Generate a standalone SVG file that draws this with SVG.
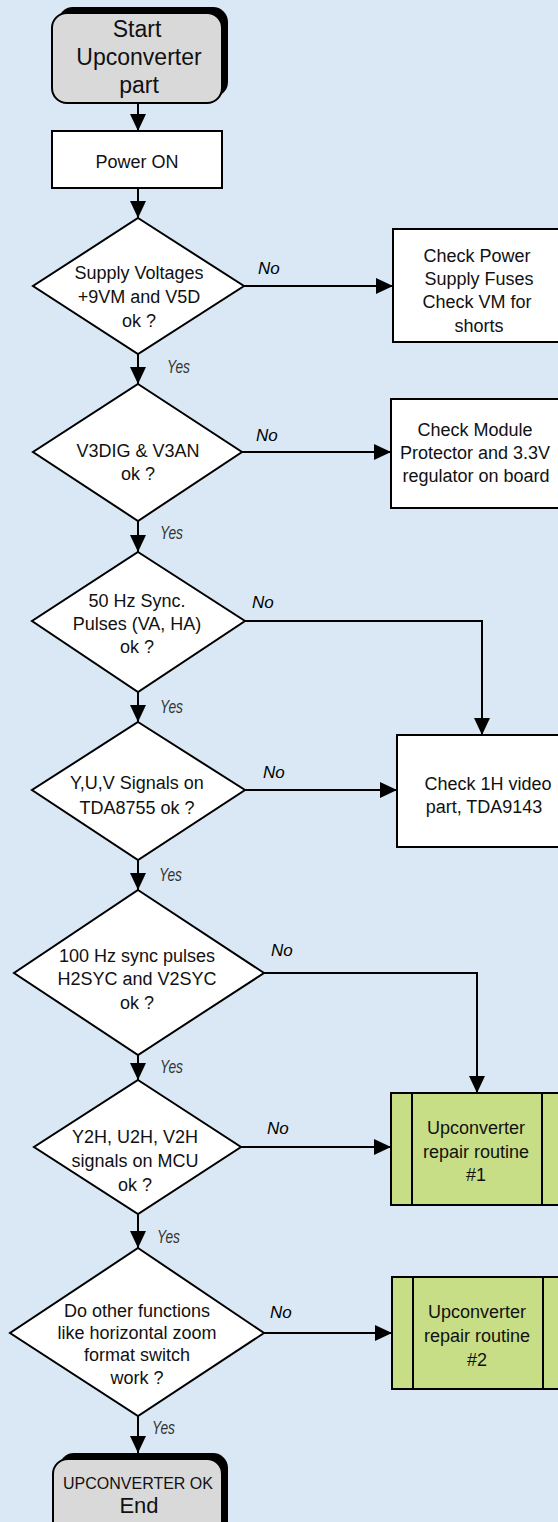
<svg xmlns="http://www.w3.org/2000/svg" width="558" height="1522" viewBox="0 0 558 1522">
  <style>
    .bg { fill: #D9E8F4; }
    .box { fill: #FFFFFF; stroke: #000; stroke-width: 2; }
    .dec { fill: #FFFFFF; stroke: #000; stroke-width: 2; stroke-linejoin: miter; }
    .term { fill: #D9D9D9; stroke: #000; stroke-width: 2; }
    .shadow { fill: #000; }
    .sub { fill: #C8DE86; stroke: #000; stroke-width: 2; }
    .t { font-family: "Liberation Sans", Arial, sans-serif; font-size: 18px; fill: #111; text-anchor: middle; }
    .big { font-size: 23px; }
    .no { font-family: "Liberation Sans", Arial, sans-serif; font-size: 17px; font-style: italic; fill: #000; }
    .yes { font-family: "Liberation Sans", Arial, sans-serif; font-size: 18px; font-style: italic; fill: #333; }
    .wire { fill: none; stroke: #000; stroke-width: 2; }
  </style>
  <defs>
    <marker id="ah" viewBox="0 0 17 17" refX="17" refY="8.5" markerWidth="17" markerHeight="17" orient="auto" markerUnits="userSpaceOnUse">
      <path d="M0,0.5 L17,8.5 L0,16.5 z" fill="#000"/>
    </marker>
  </defs>

  <rect class="bg" x="0" y="0" width="558" height="1522"/>

  <!-- connectors -->
  <g id="connectors">
    <path class="wire" d="M138,103 V131" marker-end="url(#ah)"/>
    <path class="wire" d="M138,188 V218" marker-end="url(#ah)"/>
    <path class="wire" d="M138,354 V384" marker-end="url(#ah)"/>
    <path class="wire" d="M138,521 V552" marker-end="url(#ah)"/>
    <path class="wire" d="M138,692 V722" marker-end="url(#ah)"/>
    <path class="wire" d="M138,860 V890" marker-end="url(#ah)"/>
    <path class="wire" d="M138,1055 V1080" marker-end="url(#ah)"/>
    <path class="wire" d="M138,1214 V1248" marker-end="url(#ah)"/>
    <path class="wire" d="M138,1416 V1453" marker-end="url(#ah)"/>

    <path class="wire" d="M244,286 H393" marker-end="url(#ah)"/>
    <path class="wire" d="M242,452 H391" marker-end="url(#ah)"/>
    <path class="wire" d="M245,621 H482 V735" marker-end="url(#ah)"/>
    <path class="wire" d="M245,790 H397" marker-end="url(#ah)"/>
    <path class="wire" d="M264,973 H477 V1093" marker-end="url(#ah)"/>
    <path class="wire" d="M241,1147 H391" marker-end="url(#ah)"/>
    <path class="wire" d="M264,1333 H392" marker-end="url(#ah)"/>

    <text class="yes" x="167" y="373" textLength="23" lengthAdjust="spacingAndGlyphs">Yes</text>
    <text class="yes" x="160" y="539" textLength="23" lengthAdjust="spacingAndGlyphs">Yes</text>
    <text class="yes" x="160" y="713" textLength="23" lengthAdjust="spacingAndGlyphs">Yes</text>
    <text class="yes" x="159" y="881" textLength="23" lengthAdjust="spacingAndGlyphs">Yes</text>
    <text class="yes" x="160" y="1073" textLength="23" lengthAdjust="spacingAndGlyphs">Yes</text>
    <text class="yes" x="157" y="1243" textLength="23" lengthAdjust="spacingAndGlyphs">Yes</text>
    <text class="yes" x="152" y="1434" textLength="23" lengthAdjust="spacingAndGlyphs">Yes</text>

    <text class="no" x="258" y="274">No</text>
    <text class="no" x="256" y="441">No</text>
    <text class="no" x="252" y="608">No</text>
    <text class="no" x="263" y="778">No</text>
    <text class="no" x="271" y="956">No</text>
    <text class="no" x="267" y="1134">No</text>
    <text class="no" x="270" y="1318">No</text>
  </g>

  <!-- terminator: start -->
  <g id="start">
    <rect class="shadow" x="58" y="7" width="170" height="90" rx="15" ry="15"/>
    <rect class="term" x="52" y="13" width="170" height="90" rx="15" ry="15"/>
    <text class="t big" x="137" y="37">Start</text>
    <text class="t big" x="139" y="65">Upconverter</text>
    <text class="t big" x="139" y="93">part</text>
  </g>

  <g id="power-on">
    <rect class="box" x="52" y="131" width="170" height="57"/>
    <text class="t" x="137" y="168">Power ON</text>
  </g>

  <g id="dec-supply">
    <polygon class="dec" points="138,218 244,286 138,354 33,286"/>
    <text class="t" x="139" y="279">Supply Voltages</text>
    <text class="t" x="139" y="303">+9VM and V5D</text>
    <text class="t" x="139" y="327">ok ?</text>
  </g>

  <g id="chk-fuses">
    <rect class="box" x="393" y="229" width="172" height="113"/>
    <text class="t" x="477" y="262">Check Power</text>
    <text class="t" x="479" y="285">Supply Fuses</text>
    <text class="t" x="477" y="308">Check VM for</text>
    <text class="t" x="479" y="332">shorts</text>
  </g>

  <g id="dec-v3">
    <polygon class="dec" points="138,384 242,452 138,521 33,452"/>
    <text class="t" x="138" y="457">V3DIG &amp; V3AN</text>
    <text class="t" x="138" y="480">ok ?</text>
  </g>

  <g id="chk-protector">
    <rect class="box" x="391" y="399" width="172" height="109"/>
    <text class="t" x="475" y="436">Check Module</text>
    <text class="t" x="475" y="459">Protector and 3.3V</text>
    <text class="t" x="476" y="482">regulator on board</text>
  </g>

  <g id="dec-50hz">
    <polygon class="dec" points="138,552 245,621 138,692 32,621"/>
    <text class="t" x="137" y="607">50 Hz Sync.</text>
    <text class="t" x="137" y="630">Pulses (VA, HA)</text>
    <text class="t" x="137" y="653">ok ?</text>
  </g>

  <g id="dec-yuv">
    <polygon class="dec" points="138,722 245,790 138,860 32,790"/>
    <text class="t" x="137" y="789">Y,U,V Signals on</text>
    <text class="t" x="137" y="814">TDA8755 ok ?</text>
  </g>

  <g id="chk-1h">
    <rect class="box" x="397" y="735" width="180" height="112"/>
    <text class="t" x="488" y="790">Check 1H video</text>
    <text class="t" x="484" y="813">part, TDA9143</text>
  </g>

  <g id="dec-100hz">
    <polygon class="dec" points="138,890 264,973 138,1055 14,973"/>
    <text class="t" x="137" y="962">100 Hz sync pulses</text>
    <text class="t" x="137" y="985">H2SYC and V2SYC</text>
    <text class="t" x="137" y="1009">ok ?</text>
  </g>

  <g id="dec-mcu">
    <polygon class="dec" points="138,1080 241,1147 138,1214 34,1147"/>
    <text class="t" x="135" y="1143">Y2H, U2H, V2H</text>
    <text class="t" x="135" y="1167">signals on MCU</text>
    <text class="t" x="135" y="1191">ok ?</text>
  </g>

  <g id="routine-1">
    <rect class="sub" x="391" y="1093" width="172" height="112"/>
    <line class="wire" x1="412" y1="1093" x2="412" y2="1205"/>
    <line class="wire" x1="542" y1="1093" x2="542" y2="1205"/>
    <text class="t" x="476" y="1134">Upconverter</text>
    <text class="t" x="476" y="1158">repair routine</text>
    <text class="t" x="476" y="1181">#1</text>
  </g>

  <g id="dec-other">
    <polygon class="dec" points="138,1248 264,1333 138,1416 10,1333"/>
    <text class="t" x="137" y="1317">Do other functions</text>
    <text class="t" x="137" y="1339">like horizontal zoom</text>
    <text class="t" x="137" y="1361">format switch</text>
    <text class="t" x="137" y="1384">work ?</text>
  </g>

  <g id="routine-2">
    <rect class="sub" x="392" y="1277" width="172" height="112"/>
    <line class="wire" x1="413" y1="1277" x2="413" y2="1389"/>
    <line class="wire" x1="543" y1="1277" x2="543" y2="1389"/>
    <text class="t" x="477" y="1318">Upconverter</text>
    <text class="t" x="477" y="1342">repair routine</text>
    <text class="t" x="477" y="1366">#2</text>
  </g>

  <!-- terminator: end -->
  <g id="end">
    <rect class="shadow" x="59" y="1453" width="169" height="90" rx="15" ry="15"/>
    <rect class="term" x="53" y="1459" width="169" height="90" rx="15" ry="15"/>
    <text class="t" x="138" y="1489" style="font-size:16px">UPCONVERTER OK</text>
    <text class="t" x="139" y="1513" style="font-size:22px">End</text>
  </g>
</svg>
